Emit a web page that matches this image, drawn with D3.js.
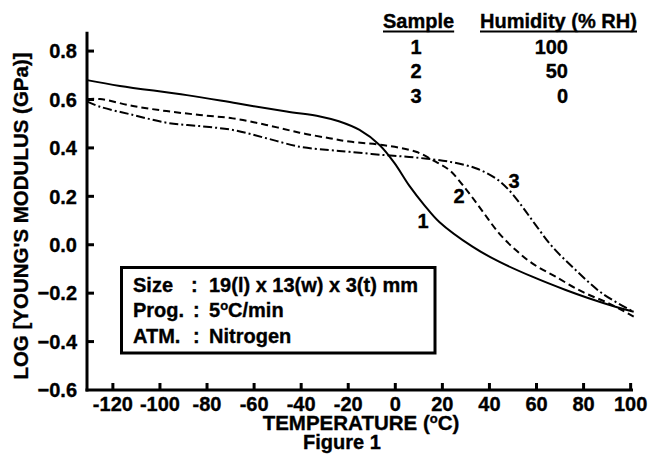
<!DOCTYPE html>
<html>
<head>
<meta charset="utf-8">
<script src="https://cdn.jsdelivr.net/npm/d3@7"></script>
<style>
  body { margin: 0; background: #fff; }
  text { font-family: "Liberation Sans", Arial, sans-serif; font-weight: bold; fill: #000; stroke: #000; stroke-width: 0.35px; }
</style>
</head>
<body>
<div id="chart"></div>
<script>
// Axis ticks
const xTicks = [-120, -100, -80, -60, -40, -20, 0, 20, 40, 60, 80, 100]
const yTicks = [-0.6, -0.4, -0.2, 0.0, 0.2, 0.4, 0.6, 0.8]

// Legend table
const sampleIds = ['1', '2', '3']
const humidity = ['100', '50', '0']

// Sample 1 (100 %RH), solid
const temp1 = [-131, -117, -88.6, -67.4, -46.2, -32, -24, -15.2, -6.7, -0.4, 6, 12.3, 18.7, 32.8, 44.1, 58.2, 72.4, 82.2, 93.5, 101.3]
const logE1 = [0.680, 0.656, 0.618, 0.584, 0.550, 0.530, 0.510, 0.474, 0.412, 0.338, 0.243, 0.164, 0.094, -0.008, -0.070, -0.132, -0.187, -0.221, -0.256, -0.277]

// Sample 2 (50 %RH), dashed
const temp2 = [-130.9, -125.5, -111.5, -97.2, -83.1, -69.1, -54.8, -40.7, -28.0, -19.5, -5.4, 8.8, 17.3, 22.9, 30.0, 37.0, 44.1, 51.2, 58.2, 68.1, 79.4, 90.7, 101.3]
const logE2 = [0.601, 0.602, 0.573, 0.552, 0.536, 0.522, 0.495, 0.463, 0.440, 0.426, 0.412, 0.384, 0.342, 0.309, 0.230, 0.139, 0.047, -0.022, -0.077, -0.132, -0.194, -0.242, -0.297]

// Sample 3 (0 %RH), dash-dot
const temp3 = [-130.9, -125.5, -111.4, -97.2, -83.1, -69.0, -54.8, -40.7, -28.0, -19.5, -5.4, 8.8, 22.9, 34.2, 42.7, 48.3, 54.0, 59.6, 66.7, 76.6, 87.9, 101.3]
const logE3 = [0.591, 0.570, 0.536, 0.504, 0.490, 0.474, 0.440, 0.405, 0.391, 0.384, 0.371, 0.360, 0.343, 0.316, 0.274, 0.226, 0.157, 0.082, -0.008, -0.104, -0.201, -0.277]

// Info box lines
const infoLabels = ['Size', 'Prog.', 'ATM.']
const infoValues = ['19(l) x 13(w) x 3(t) mm', '5\u00b0C/min', 'Nitrogen']

const W = 649
const H = 455
const FS = '20px'

const svg = d3.select('#chart')
  .append('svg')
  .attr('width', W)
  .attr('height', H)

const x = d3.scaleLinear().domain([-131, 101]).range([87, 633])
const y = d3.scaleLinear().domain([-0.6, 0.88]).range([390, 31.7])

// Curves
const series = [
  { t: temp1, v: logE1, dash: null },
  { t: temp2, v: logE2, dash: '7,4' },
  { t: temp3, v: logE3, dash: '9,3,2,3' }
]

const line = d3.line()
  .x(d => x(d[0]))
  .y(d => y(d[1]))
  .curve(d3.curveCatmullRom)

svg.selectAll('path.curve')
  .data(series)
  .enter()
  .append('path')
  .attr('class', 'curve')
  .attr('d', s => line(d3.zip(s.t, s.v)))
  .attr('fill', 'none')
  .attr('stroke', '#000')
  .attr('stroke-width', 2)
  .attr('stroke-dasharray', s => s.dash)

// Axes (drawn by hand so ticks point inwards and lines are heavy)
svg.append('line')
  .attr('x1', x(-131)).attr('x2', x(-131))
  .attr('y1', y(0.88)).attr('y2', y(-0.6) + 1.5)
  .attr('stroke', '#000').attr('stroke-width', 3)

svg.append('line')
  .attr('x1', x(-131) - 1.5).attr('x2', x(101))
  .attr('y1', y(-0.6)).attr('y2', y(-0.6))
  .attr('stroke', '#000').attr('stroke-width', 3)

svg.selectAll('line.ytick')
  .data(yTicks.slice(1))
  .enter()
  .append('line')
  .attr('class', 'ytick')
  .attr('x1', x(-131)).attr('x2', x(-131) + 7)
  .attr('y1', d => y(d)).attr('y2', d => y(d))
  .attr('stroke', '#000').attr('stroke-width', 3)

svg.selectAll('text.ylab')
  .data(yTicks)
  .enter()
  .append('text')
  .attr('class', 'ylab')
  .attr('x', 77)
  .attr('y', d => y(d))
  .attr('dy', '0.36em')
  .attr('text-anchor', 'end')
  .style('font-size', FS)
  .text(d => d3.format('.1f')(d))

svg.selectAll('line.xtick')
  .data(xTicks)
  .enter()
  .append('line')
  .attr('class', 'xtick')
  .attr('x1', d => x(d)).attr('x2', d => x(d))
  .attr('y1', y(-0.6)).attr('y2', y(-0.6) - 7)
  .attr('stroke', '#000').attr('stroke-width', 3)

svg.selectAll('text.xlab')
  .data(xTicks)
  .enter()
  .append('text')
  .attr('class', 'xlab')
  .attr('x', d => x(d))
  .attr('y', 411)
  .attr('text-anchor', 'middle')
  .style('font-size', FS)
  .text(d => d)

// Axis titles
const xTitle = svg.append('text')
  .attr('x', 361)
  .attr('y', 430)
  .attr('text-anchor', 'middle')
  .style('font-size', '20.5px')
xTitle.append('tspan').text('TEMPERATURE (')
xTitle.append('tspan').attr('dy', -7).style('font-size', '13px').text('o')
xTitle.append('tspan').attr('dy', 7).text('C)')

svg.append('text')
  .attr('x', 342)
  .attr('y', 449)
  .attr('text-anchor', 'middle')
  .style('font-size', FS)
  .text('Figure 1')

svg.append('text')
  .attr('transform', 'translate(28,216) rotate(-90)')
  .attr('text-anchor', 'middle')
  .style('font-size', '20.5px')
  .text('LOG [YOUNG\'S MODULUS (GPa)]')

// Curve labels
const curveLabels = [
  { id: '1', t: 11.8, v: 0.069 },
  { id: '2', t: 27.1, v: 0.172 },
  { id: '3', t: 50.5, v: 0.234 }
]
svg.selectAll('text.clab')
  .data(curveLabels)
  .enter()
  .append('text')
  .attr('class', 'clab')
  .attr('x', d => x(d.t))
  .attr('y', d => y(d.v))
  .attr('text-anchor', 'middle')
  .style('font-size', FS)
  .text(d => d.id)

// Legend table, top right
const hdrSample = svg.append('text')
  .attr('x', 383).attr('y', 28)
  .style('font-size', FS)
  .text('Sample')
const hdrHum = svg.append('text')
  .attr('x', 480).attr('y', 28)
  .attr('textLength', 157)
  .attr('lengthAdjust', 'spacingAndGlyphs')
  .style('font-size', FS)
  .text('Humidity (% RH)')

;[hdrSample, hdrHum].forEach(t => {
  const b = t.node().getBBox()
  svg.append('line')
    .attr('x1', b.x).attr('x2', b.x + b.width)
    .attr('y1', 31.5).attr('y2', 31.5)
    .attr('stroke', '#000').attr('stroke-width', 1.8)
})

svg.selectAll('text.sid')
  .data(sampleIds)
  .enter()
  .append('text')
  .attr('class', 'sid')
  .attr('x', 416)
  .attr('y', (d, i) => 54 + i * 24.3)
  .attr('text-anchor', 'middle')
  .style('font-size', FS)
  .text(d => d)

svg.selectAll('text.hum')
  .data(humidity)
  .enter()
  .append('text')
  .attr('class', 'hum')
  .attr('x', 568)
  .attr('y', (d, i) => 54 + i * 24.3)
  .attr('text-anchor', 'end')
  .style('font-size', FS)
  .text(d => d)

// Info box
svg.append('rect')
  .attr('x', 121.5).attr('y', 267.5)
  .attr('width', 313.5).attr('height', 85.5)
  .attr('fill', 'none')
  .attr('stroke', '#000').attr('stroke-width', 3)

infoLabels.forEach((lab, i) => {
  const yy = 291.5 + i * 25.6
  svg.append('text').attr('x', 133).attr('y', yy).style('font-size', FS).text(lab)
  svg.append('text').attr('x', i === 0 ? 191 : 193).attr('y', yy).style('font-size', FS).text(':')
  const v = svg.append('text').attr('x', 209).attr('y', yy).style('font-size', FS)
  const parts = infoValues[i].split('\u00b0')
  v.append('tspan').text(parts[0])
  if (parts.length > 1) {
    v.append('tspan').attr('dy', -7).style('font-size', '13px').text('o')
    v.append('tspan').attr('dy', 7).text(parts[1])
  }
})
</script>
</body>
</html>
